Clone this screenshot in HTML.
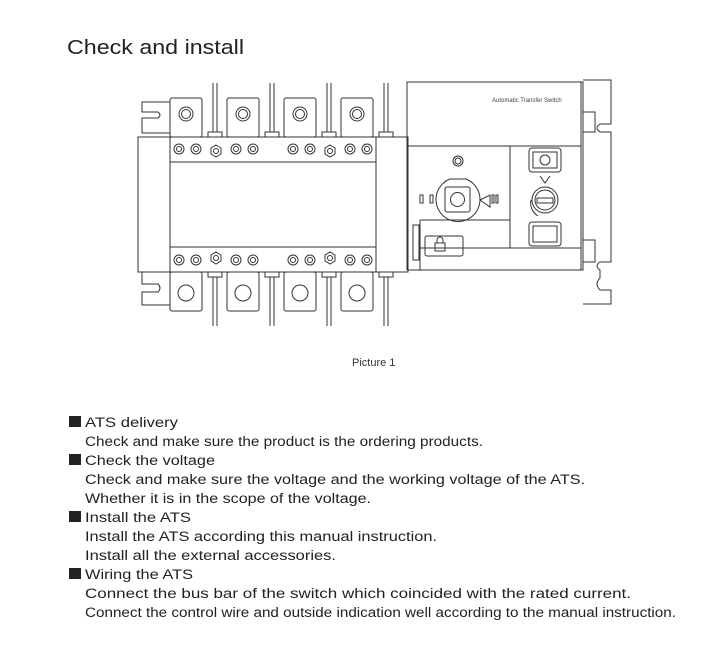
<!DOCTYPE html>
<html><head><meta charset="utf-8"><style>
html,body{margin:0;padding:0;background:#fff;}
body{width:724px;height:649px;overflow:hidden;position:relative;font-family:"Liberation Sans",sans-serif;}
svg{position:absolute;left:0;top:0;}
</style></head><body>
<svg width="724" height="649" viewBox="0 0 724 649" xmlns="http://www.w3.org/2000/svg">
<g fill="none" stroke="#333" stroke-width="1">
<!-- left brackets -->
<path d="M170 102 H142 V112 H158 Q162 115 158 118 H142 V133 H170"/>
<path d="M170 272 H142 V284 H158 Q162 288 158 292 H142 V305 H170"/>
<!-- main body -->
<rect x="138" y="137" width="270" height="135"/>
<line x1="170" y1="137" x2="170" y2="272"/>
<line x1="376" y1="137" x2="376" y2="272"/>
<rect x="170" y="162" width="206" height="85"/>
<!-- top terminals -->
<rect x="170" y="98" width="32" height="39" rx="2"/>
<rect x="227" y="98" width="32" height="39" rx="2"/>
<rect x="284" y="98" width="32" height="39" rx="2"/>
<rect x="341" y="98" width="32" height="39" rx="2"/>
<circle cx="186" cy="114" r="7"/><circle cx="186" cy="114" r="4.5"/>
<circle cx="243" cy="114" r="7"/><circle cx="243" cy="114" r="4.5"/>
<circle cx="300" cy="114" r="7"/><circle cx="300" cy="114" r="4.5"/>
<circle cx="357" cy="114" r="7"/><circle cx="357" cy="114" r="4.5"/>
<!-- bottom terminals -->
<rect x="170" y="272" width="32" height="39" rx="2"/>
<rect x="227" y="272" width="32" height="39" rx="2"/>
<rect x="284" y="272" width="32" height="39" rx="2"/>
<rect x="341" y="272" width="32" height="39" rx="2"/>
<circle cx="186" cy="293" r="8"/><circle cx="243" cy="293" r="8"/>
<circle cx="300" cy="293" r="8"/><circle cx="357" cy="293" r="8"/>
<!-- wires -->
<g>
<path d="M213 83 V132 M217 83 V132 M208 137 V132 H222 V137"/>
<path d="M270 83 V132 M274 83 V132 M265 137 V132 H279 V137"/>
<path d="M327 83 V132 M331 83 V132 M322 137 V132 H336 V137"/>
<path d="M384 83 V132 M388 83 V132 M379 137 V132 H393 V137"/>
<path d="M213 326 V277 M217 326 V277 M208 272 V277 H222 V272"/>
<path d="M270 326 V277 M274 326 V277 M265 272 V277 H279 V272"/>
<path d="M327 326 V277 M331 326 V277 M322 272 V277 H336 V272"/>
<path d="M384 326 V277 M388 326 V277 M379 272 V277 H393 V272"/>
</g>
<!-- nuts top -->
<g>
<circle cx="179" cy="149" r="5"/><circle cx="179" cy="149" r="2.5"/>
<circle cx="196" cy="149" r="5"/><circle cx="196" cy="149" r="2.5"/>
<polygon points="216,145 221,148 221,154 216,157 211,154 211,148"/><circle cx="216" cy="151" r="2.5"/>
<circle cx="236" cy="149" r="5"/><circle cx="236" cy="149" r="2.5"/>
<circle cx="253" cy="149" r="5"/><circle cx="253" cy="149" r="2.5"/>
<circle cx="293" cy="149" r="5"/><circle cx="293" cy="149" r="2.5"/>
<circle cx="310" cy="149" r="5"/><circle cx="310" cy="149" r="2.5"/>
<polygon points="330,145 335,148 335,154 330,157 325,154 325,148"/><circle cx="330" cy="151" r="2.5"/>
<circle cx="350" cy="149" r="5"/><circle cx="350" cy="149" r="2.5"/>
<circle cx="367" cy="149" r="5"/><circle cx="367" cy="149" r="2.5"/>
</g>
<g>
<circle cx="179" cy="260" r="5"/><circle cx="179" cy="260" r="2.5"/>
<circle cx="196" cy="260" r="5"/><circle cx="196" cy="260" r="2.5"/>
<polygon points="216,252 221,255 221,261 216,264 211,261 211,255"/><circle cx="216" cy="258" r="2.5"/>
<circle cx="236" cy="260" r="5"/><circle cx="236" cy="260" r="2.5"/>
<circle cx="253" cy="260" r="5"/><circle cx="253" cy="260" r="2.5"/>
<circle cx="293" cy="260" r="5"/><circle cx="293" cy="260" r="2.5"/>
<circle cx="310" cy="260" r="5"/><circle cx="310" cy="260" r="2.5"/>
<polygon points="330,252 335,255 335,261 330,264 325,261 325,255"/><circle cx="330" cy="258" r="2.5"/>
<circle cx="350" cy="260" r="5"/><circle cx="350" cy="260" r="2.5"/>
<circle cx="367" cy="260" r="5"/><circle cx="367" cy="260" r="2.5"/>
</g>
<!-- right module -->
<rect x="407" y="82" width="176" height="188"/>
<line x1="581" y1="82" x2="581" y2="270"/>
<line x1="407" y1="146" x2="581" y2="146"/>
<line x1="510" y1="146" x2="510" y2="248"/>
<line x1="420" y1="248" x2="581" y2="248"/>
<line x1="420" y1="220" x2="420" y2="270"/>
<line x1="420" y1="220" x2="510" y2="220"/>
<rect x="413" y="225" width="6" height="35"/>
<circle cx="458" cy="161" r="5"/><circle cx="458" cy="161" r="3"/>
<path d="M450 179 A22 22 0 1 0 466 179 Z"/>
<path d="M480 200 L490 195 V207 Z"/>
<rect x="445" y="187" width="25" height="25" rx="2"/>
<circle cx="457.5" cy="199.5" r="7"/>
<rect x="420" y="195" width="3" height="8"/><rect x="430" y="195" width="3" height="8"/>
<rect x="492" y="195" width="2" height="8"/><rect x="496" y="195" width="2" height="8"/>
<rect x="425" y="236" width="38" height="20" rx="2"/>
<rect x="435" y="243" width="10" height="8"/><path d="M437 243 V240 A3 3 0 0 1 443 240 V243"/>
<rect x="529" y="148" width="32" height="24" rx="3"/>
<rect x="533" y="152" width="24" height="16"/>
<circle cx="545" cy="160" r="5"/>
<circle cx="545" cy="200" r="13"/><circle cx="545" cy="200" r="10"/>
<rect x="537" y="198" width="16" height="5"/>
<path d="M540 176 L545 183 L550 176"/>
<path d="M531 200 A15 15 0 0 0 538 216"/>
<rect x="529" y="222" width="32" height="24" rx="3"/>
<rect x="533" y="226" width="24" height="16"/>
<!-- right bracket -->
<path d="M583 80 H611 V124 H600 Q594 128 600 132 H611 V262 H600 Q594 266 600 270 V278 Q594 284 600 290 H611 V304 H583"/>
<path d="M583 112 H595 V132 H583 M583 240 H595 V262 H583"/>
</g>
<text x="492" y="102" font-size="6" fill="#444" font-family="Liberation Sans, sans-serif">Automatic Transfer Switch</text>
<text x="67" y="54" font-size="20" fill="#222" textLength="177" lengthAdjust="spacingAndGlyphs">Check and install</text>
<text x="352" y="366" font-size="11" fill="#333">Picture 1</text>
<g font-size="13.5" fill="#222">
<rect x="69" y="416" width="12" height="11" fill="#222"/>
<text x="85" y="427" textLength="93" lengthAdjust="spacingAndGlyphs">ATS delivery</text>
<text x="85" y="446" textLength="398" lengthAdjust="spacingAndGlyphs">Check and make sure the product is the ordering products.</text>
<rect x="69" y="454" width="12" height="11" fill="#222"/>
<text x="85" y="465" textLength="130" lengthAdjust="spacingAndGlyphs">Check the voltage</text>
<text x="85" y="484" textLength="500" lengthAdjust="spacingAndGlyphs">Check and make sure the voltage and the working voltage of the ATS.</text>
<text x="85" y="503" textLength="286" lengthAdjust="spacingAndGlyphs">Whether it is in the scope of the voltage.</text>
<rect x="69" y="511" width="12" height="11" fill="#222"/>
<text x="85" y="522" textLength="106" lengthAdjust="spacingAndGlyphs">Install the ATS</text>
<text x="85" y="541" textLength="352" lengthAdjust="spacingAndGlyphs">Install the ATS according this manual instruction.</text>
<text x="85" y="560" textLength="251" lengthAdjust="spacingAndGlyphs">Install all the external accessories.</text>
<rect x="69" y="568" width="12" height="11" fill="#222"/>
<text x="85" y="579" textLength="108" lengthAdjust="spacingAndGlyphs">Wiring the ATS</text>
<text x="85" y="598" textLength="546" lengthAdjust="spacingAndGlyphs">Connect the bus bar of the switch which coincided with the rated current.</text>
<text x="85" y="617" textLength="591" lengthAdjust="spacingAndGlyphs">Connect the control wire and outside indication well according to the manual instruction.</text>
</g>
</svg>
</body></html>
